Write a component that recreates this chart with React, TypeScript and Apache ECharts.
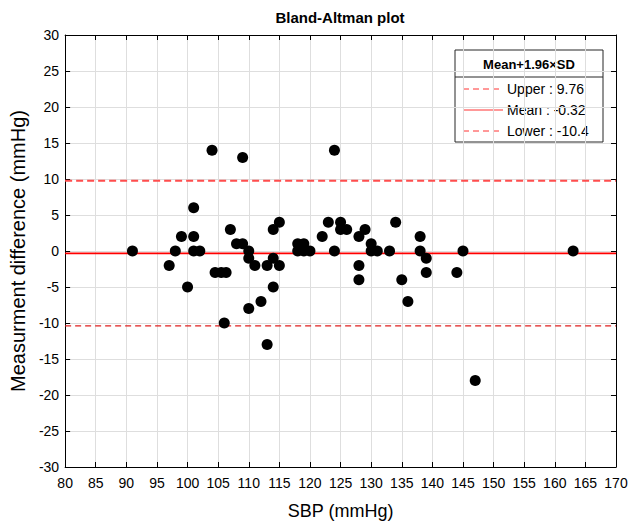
import React, { useEffect, useRef } from "react";
import * as echarts from "echarts";

const sbp = [
  91, 97, 98, 99, 100, 101, 101, 101, 102, 104, 104.5, 105.5, 106.3, 106, 107, 108, 109, 109, 110, 110,
  110, 111, 112, 113, 113, 114, 115, 114, 114, 115, 118, 119, 118, 119, 120, 122, 123, 124, 124, 125,
  125, 126, 128, 129, 128, 128, 130, 130, 131, 133, 134, 135, 136, 138, 138, 139, 139, 144, 145, 147, 163,
];
const diff = [
  0, -2, 0, 2, -5, 6, 2, 0, 0, 14, -3, -3, -3, -10, 3, 1, 1, 13, 0, -1,
  -8, -2, -7, -13, -2, 3, 4, -1, -5, -2, 1, 1, 0, 0, 0, 2, 4, 14, 0, 4,
  3, 3, 2, 3, -2, -4, 1, 0, 0, 0, 4, -4, -7, 2, 0, -1, -3, -3, 0, -18, 0,
];

const limitNames = ["Upper", "Mean", "Lower"];
const limitValues = [9.76, -0.32, -10.4];
const limitLabels = ["9.76", "-0.32", "-10.4"];

const xRange = [80, 170];
const yRange = [-30, 30];

const FONT = "Liberation Sans, Arial, sans-serif";

export default function App() {
  const ref = useRef<HTMLDivElement>(null);
  useEffect(() => {
    if (!ref.current) return;
    const chart = echarts.init(ref.current, null, { renderer: "svg" });
    const points = sbp.map((x, i) => [x, diff[i]]);
    const lineStyles = [
      { color: "#ff4d4d", width: 2, type: [7, 4] },
      { color: "#ff0000", width: 1.8, type: "solid" },
      { color: "#e02020", width: 1.2, type: [6, 4] },
    ];
    const limitSeries = limitValues.map((v, i) => ({
      type: "line",
      name: limitNames[i],
      data: [
        [xRange[0], v],
        [xRange[1], v],
      ],
      showSymbol: false,
      symbol: "none",
      lineStyle: lineStyles[i],
      z: 2,
      silent: true,
    }));

    const axisCommon = {
      type: "value",
      axisLine: { show: true, onZero: false, lineStyle: { color: "#000", width: 1 } },
      axisTick: { show: true, inside: true, length: 5, lineStyle: { color: "#000" } },
    };

    const boxL = 64, boxR = 616, boxT = 35, boxB = 469;
    const legX = 455, legY = 50, legW = 148, legH = 92;
    const rowY = [89, 110, 131];

    const legendChildren: any[] = [
      {
        type: "rect",
        shape: { x: legX, y: legY, width: legW, height: legH },
        style: { fill: "#fff", stroke: "#262626", lineWidth: 1 },
      },
      {
        type: "line",
        shape: { x1: legX, y1: 77, x2: legX + legW, y2: 77 },
        style: { stroke: "#262626", lineWidth: 1 },
      },
      {
        type: "text",
        x: legX + legW / 2,
        y: 64,
        style: {
          text: "Mean+1.96×SD",
          font: `bold 13px ${FONT}`,
          fill: "#000",
          textAlign: "center",
          textVerticalAlign: "middle",
        },
      },
    ];
    limitNames.forEach((n, i) => {
      legendChildren.push({
        type: "line",
        shape: { x1: legX + 8, y1: rowY[i], x2: legX + 48, y2: rowY[i] },
        style: {
          stroke: "#ff3333",
          lineWidth: 1,
          lineDash: i === 1 ? null : [6, 4],
        },
      });
      legendChildren.push({
        type: "text",
        x: legX + 52,
        y: rowY[i],
        style: {
          text: `${n} : ${limitLabels[i]}`,
          font: `14px ${FONT}`,
          fill: "#000",
          textAlign: "left",
          textVerticalAlign: "middle",
        },
      });
    });

    chart.setOption({
      animation: false,
      backgroundColor: "#fff",
      grid: { left: boxL, right: 632 - boxR, top: boxT, bottom: 525 - boxB, containLabel: false },
      xAxis: [
        {
          ...axisCommon,
          position: "bottom",
          min: xRange[0],
          max: xRange[1],
          interval: 5,
          axisLabel: { color: "#000", fontSize: 14, fontFamily: FONT, margin: 9 },
          splitLine: { show: true, lineStyle: { color: "#dedede", width: 1 } },
          name: "SBP (mmHg)",
          nameLocation: "middle",
          nameGap: 35,
          nameTextStyle: { color: "#000", fontSize: 18, fontFamily: FONT },
        },
        {
          ...axisCommon,
          position: "top",
          min: xRange[0],
          max: xRange[1],
          interval: 5,
          axisLabel: { show: false },
          splitLine: { show: false },
        },
      ],
      yAxis: [
        {
          ...axisCommon,
          position: "left",
          min: yRange[0],
          max: yRange[1],
          interval: 5,
          axisLabel: { color: "#000", fontSize: 14, fontFamily: FONT, margin: 6 },
          splitLine: { show: true, lineStyle: { color: "#dedede", width: 1 } },
          name: "Measurment difference (mmHg)",
          nameLocation: "middle",
          nameGap: 37,
          nameRotate: 90,
          nameTextStyle: { color: "#000", fontSize: 20, fontFamily: FONT },
        },
        {
          ...axisCommon,
          position: "right",
          min: yRange[0],
          max: yRange[1],
          interval: 5,
          axisLabel: { show: false },
          splitLine: { show: false },
        },
      ],
      series: [
        ...limitSeries,
        {
          type: "scatter",
          data: points,
          symbol: "circle",
          symbolSize: 11,
          itemStyle: { color: "#000", opacity: 1 },
          z: 3,
        },
      ],
      graphic: [
        {
          type: "text",
          x: (boxL + boxR) / 2,
          y: 17,
          style: {
            text: "Bland-Altman plot",
            font: `bold 15px ${FONT}`,
            fill: "#000",
            textAlign: "center",
            textVerticalAlign: "middle",
          },
        },
        { type: "group", children: legendChildren, z: 10 },
      ],
    });
    return () => chart.dispose();
  }, []);
  return (
    <div
      ref={ref}
      style={{ position: "absolute", left: 0, top: 0, width: 632, height: 525, background: "#fff" }}
    />
  );
}
